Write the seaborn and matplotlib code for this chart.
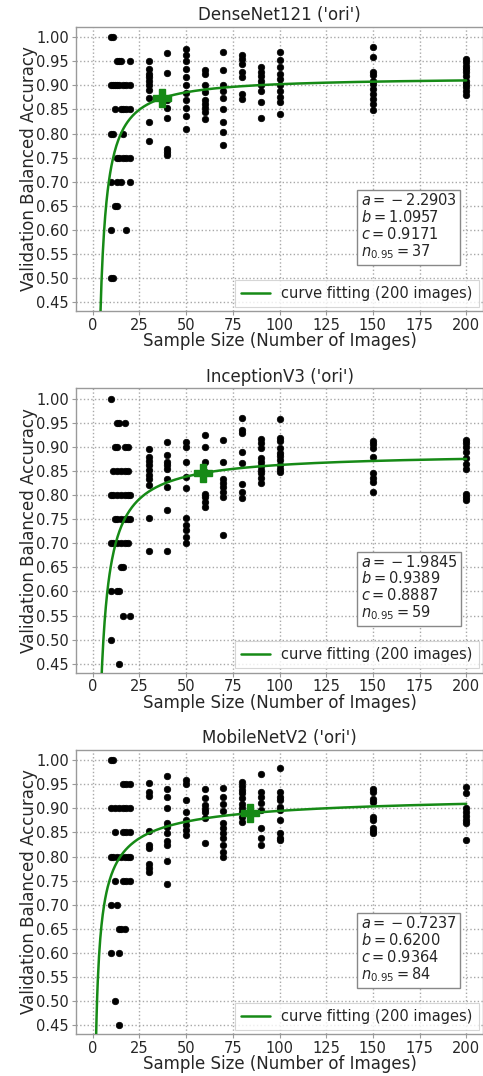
import numpy as np
import pandas as pd
import matplotlib
matplotlib.use("Agg")
import matplotlib.pyplot as plt
import seaborn as sns

# ---------------- data ----------------
titles = ["DenseNet121 ('ori')", "InceptionV3 ('ori')", "MobileNetV2 ('ori')"]
large_sizes = [30, 40, 50, 60, 70, 80, 90, 100, 150, 200]

dense_small_x = [10, 11, 13, 14, 15, 20, 10, 11, 12, 13, 14, 16, 18, 20, 12, 15, 16, 18, 20,
                 10, 11, 16, 13, 14, 16, 18, 20, 10, 13, 15, 20, 12, 13, 10, 18, 10, 11]
dense_small_y = [1.00, 1.00, 0.95, 0.95, 0.95, 0.95, 0.90, 0.90, 0.90, 0.90, 0.90, 0.90, 0.90, 0.90,
                 0.85, 0.85, 0.85, 0.85, 0.85, 0.80, 0.80, 0.80, 0.75, 0.75, 0.75, 0.75, 0.75,
                 0.70, 0.70, 0.70, 0.70, 0.65, 0.65, 0.60, 0.60, 0.50, 0.50]
dense_large = [
    [0.950, 0.934, 0.924, 0.917, 0.910, 0.900, 0.890, 0.874, 0.825, 0.784],
    [0.967, 0.925, 0.869, 0.852, 0.833, 0.769, 0.762, 0.756],
    [0.976, 0.963, 0.950, 0.934, 0.917, 0.900, 0.885, 0.869, 0.853, 0.836, 0.810],
    [0.931, 0.924, 0.900, 0.886, 0.869, 0.862, 0.853, 0.845, 0.831],
    [0.969, 0.931, 0.900, 0.889, 0.874, 0.851, 0.824, 0.803, 0.777],
    [0.963, 0.955, 0.945, 0.927, 0.917, 0.883, 0.872],
    [0.938, 0.927, 0.919, 0.910, 0.900, 0.889, 0.865, 0.832],
    [0.969, 0.952, 0.938, 0.924, 0.914, 0.900, 0.889, 0.876, 0.865, 0.841],
    [0.979, 0.959, 0.927, 0.921, 0.910, 0.903, 0.893, 0.883, 0.872, 0.862, 0.848],
    [0.955, 0.948, 0.941, 0.934, 0.927, 0.919, 0.910, 0.903, 0.896, 0.889, 0.879],
]
dense_fit = {"a": -2.2903, "b": 1.0957, "c": 0.9171, "n95": 37}

incep_small_x = [10, 13, 14, 17, 12, 13, 17, 19, 11, 13, 15, 17, 19,
                 10, 11, 13, 15, 17, 19, 20, 12, 13, 15, 17, 19, 20,
                 10, 11, 13, 15, 17, 19, 15, 16, 10, 13, 14, 16, 20, 10, 14]
incep_small_y = [1.00, 0.95, 0.95, 0.95, 0.90, 0.90, 0.90, 0.90, 0.85, 0.85, 0.85, 0.85, 0.85,
                 0.80, 0.80, 0.80, 0.80, 0.80, 0.80, 0.80, 0.75, 0.75, 0.75, 0.75, 0.75, 0.75,
                 0.70, 0.70, 0.70, 0.70, 0.70, 0.70, 0.65, 0.65, 0.60, 0.60, 0.60, 0.55, 0.55,
                 0.50, 0.45]
incep_large = [
    [0.895, 0.878, 0.870, 0.862, 0.852, 0.841, 0.834, 0.821, 0.752, 0.684],
    [0.910, 0.884, 0.869, 0.862, 0.855, 0.834, 0.817, 0.769, 0.684],
    [0.910, 0.900, 0.869, 0.838, 0.814, 0.752, 0.738, 0.727, 0.714, 0.700],
    [0.924, 0.900, 0.869, 0.848, 0.803, 0.796, 0.786, 0.776],
    [0.914, 0.869, 0.834, 0.824, 0.817, 0.807, 0.797, 0.717],
    [0.960, 0.934, 0.928, 0.890, 0.866, 0.822, 0.807, 0.793],
    [0.917, 0.907, 0.897, 0.876, 0.869, 0.861, 0.852, 0.845, 0.836, 0.826],
    [0.957, 0.919, 0.912, 0.897, 0.888, 0.881, 0.872, 0.863, 0.855, 0.848],
    [0.912, 0.905, 0.898, 0.879, 0.845, 0.836, 0.828, 0.807],
    [0.915, 0.908, 0.900, 0.890, 0.876, 0.865, 0.855, 0.803, 0.796, 0.790],
]
incep_fit = {"a": -1.9845, "b": 0.9389, "c": 0.8887, "n95": 59}

mobile_small_x = [10, 11, 16, 18, 20, 10, 12, 14, 16, 18, 20, 12, 16, 18, 20,
                  10, 11, 13, 15, 17, 19, 20, 12, 16, 18, 20, 10, 13, 14, 15, 17,
                  10, 14, 12, 14]
mobile_small_y = [1.00, 1.00, 0.95, 0.95, 0.95, 0.90, 0.90, 0.90, 0.90, 0.90, 0.90,
                  0.85, 0.85, 0.85, 0.85, 0.80, 0.80, 0.80, 0.80, 0.80, 0.80, 0.80,
                  0.75, 0.75, 0.75, 0.75, 0.70, 0.70, 0.65, 0.65, 0.65, 0.60, 0.60,
                  0.50, 0.45]
mobile_large = [
    [0.952, 0.934, 0.926, 0.852, 0.825, 0.817, 0.784, 0.776, 0.769],
    [0.967, 0.941, 0.924, 0.900, 0.869, 0.862, 0.848, 0.832, 0.824, 0.791, 0.743],
    [0.959, 0.950, 0.917, 0.893, 0.876, 0.865, 0.855, 0.845],
    [0.941, 0.922, 0.907, 0.899, 0.892, 0.879, 0.828],
    [0.943, 0.924, 0.910, 0.894, 0.869, 0.859, 0.848, 0.838, 0.824, 0.810, 0.800],
    [0.955, 0.947, 0.938, 0.931, 0.922, 0.910, 0.900, 0.892, 0.883, 0.872],
    [0.972, 0.934, 0.924, 0.912, 0.897, 0.859, 0.839, 0.824],
    [0.984, 0.934, 0.924, 0.917, 0.903, 0.897, 0.876, 0.848, 0.839, 0.834],
    [0.941, 0.934, 0.919, 0.914, 0.883, 0.876, 0.860, 0.853, 0.848],
    [0.945, 0.931, 0.901, 0.892, 0.885, 0.876, 0.869, 0.834],
]
mobile_fit = {"a": -0.7237, "b": 0.6200, "c": 0.9364, "n95": 84}

x_ticks = [0, 25, 50, 75, 100, 125, 150, 175, 200]
y_ticks = [0.45, 0.50, 0.55, 0.60, 0.65, 0.70, 0.75, 0.80, 0.85, 0.90, 0.95, 1.00]

# ---------------- plotting ----------------
sns.set_style("white")
plt.rcParams["font.family"] = ["DejaVu Sans"]
plt.rcParams["font.sans-serif"] = ["DejaVu Sans"]
plt.rcParams["mathtext.fontset"] = "dejavusans"

fig = plt.figure(figsize=(4.83, 10.76), dpi=100)
left = 76 / 483
width = 1.0 - left
h = 284 / 1076
tops = [27, 388.5, 750]

models = [
    (dense_small_x, dense_small_y, dense_large, dense_fit),
    (incep_small_x, incep_small_y, incep_large, incep_fit),
    (mobile_small_x, mobile_small_y, mobile_large, mobile_fit),
]
green = "#168a16"
spine_col = "#9a9a9a"

for i, (sx, sy, large, fit) in enumerate(models):
    bottom = 1 - (tops[i] + 284) / 1076
    ax = fig.add_axes([left, bottom, width, h])
    xs = list(sx)
    ys = list(sy)
    for n, vals in zip(large_sizes, large):
        xs += [n] * len(vals)
        ys += vals
    df = pd.DataFrame({"n": xs, "acc": ys})
    sns.scatterplot(data=df, x="n", y="acc", ax=ax, color="black", s=22,
                    edgecolor="black", linewidth=0.5, zorder=3)

    cx = np.linspace(1, 200, 600)
    cy = fit["c"] + fit["a"] * cx ** (-fit["b"])
    curve = pd.DataFrame({"n": cx, "acc": cy})
    sns.lineplot(data=curve, x="n", y="acc", ax=ax, color=green, linewidth=1.8,
                 zorder=4, label="curve fitting (200 images)")
    pn = fit["n95"]
    py = fit["c"] + fit["a"] * pn ** (-fit["b"])
    ax.plot([pn], [py], marker="P", color=green, markersize=13, zorder=5,
            linestyle="none")

    ax.set_xlim(-9, 209)
    ax.set_ylim(0.432, 1.021)
    ax.set_xticks(x_ticks)
    ax.set_yticks(y_ticks)
    ax.set_yticklabels([f"{v:.2f}" for v in y_ticks])
    ax.grid(True, linestyle=":", color="#a8a8a8", linewidth=1.0)
    ax.set_axisbelow(True)
    for s in ax.spines.values():
        s.set_color(spine_col)
        s.set_linewidth(1.0)
    ax.tick_params(axis="both", labelsize=10.5, length=3, width=0.8,
                   color=spine_col, pad=2, direction="out",
                   bottom=True, left=True)
    ax.set_xlabel("Sample Size (Number of Images)", fontsize=12, labelpad=-0.5)
    ax.set_ylabel("Validation Balanced Accuracy", fontsize=12, labelpad=-1.5)
    ax.set_title(titles[i], fontsize=12, pad=5)

    txt = (f"$a={{}}-{abs(fit['a']):.4f}$\n$b={fit['b']:.4f}$\n"
           f"$c={fit['c']:.4f}$\n$n_{{0.95}}={fit['n95']}$")
    ax.text(0.700, 0.418, txt, transform=ax.transAxes, fontsize=10.5,
            ha="left", va="top", linespacing=1.05, zorder=6,
            bbox=dict(boxstyle="square,pad=0.25", facecolor="white",
                      edgecolor="#888888", linewidth=1.0))
    leg = ax.legend(loc="lower right", fontsize=10.5, frameon=True,
                    fancybox=False, framealpha=0.8, edgecolor="#cccccc",
                    borderaxespad=0.3, handlelength=2.0)
    leg.get_frame().set_linewidth(0.8)

fig.savefig("out.png", dpi=100)
